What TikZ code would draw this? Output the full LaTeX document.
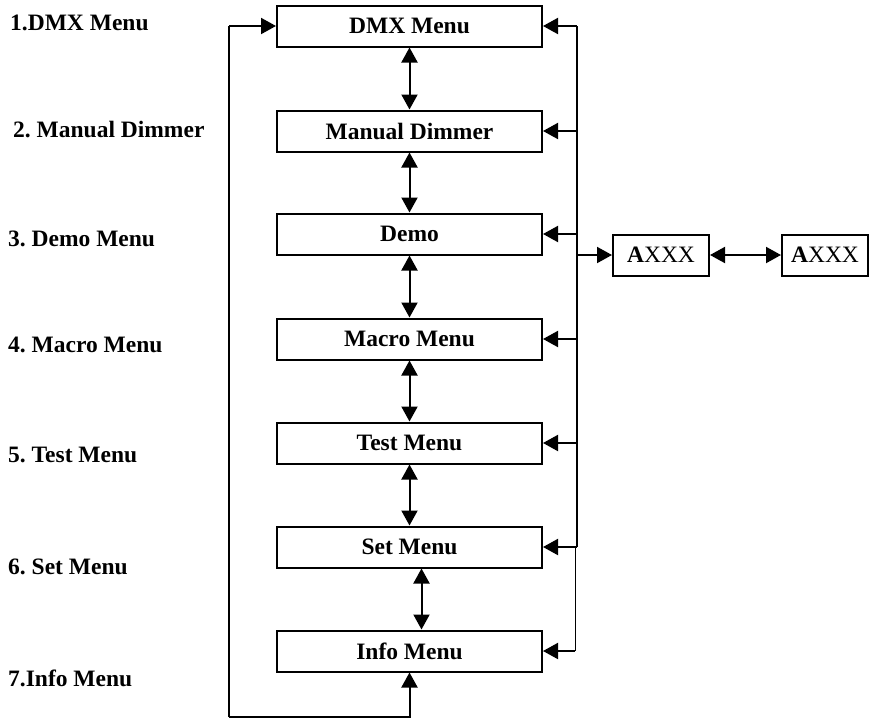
\documentclass[tikz,border=0pt]{standalone}
\usepackage{fontspec}
\setmainfont{Liberation Serif}
\usetikzlibrary{arrows.meta}
\frenchspacing
\tikzset{
  menubox/.style={draw, line width=2pt, minimum width=265pt, minimum height=41pt, inner sep=0pt, font=\fontsize{23.5}{27}\selectfont\bfseries},
  abox/.style={draw, line width=2pt, minimum height=41pt, inner sep=0pt, font=\fontsize{23.5}{27}\selectfont},
  lbl/.style={anchor=west, inner sep=0pt, font=\fontsize{23.5}{27}\selectfont\bfseries},
  conn/.style={line width=2pt},
  arr/.style={line width=2pt, -{Triangle[length=15pt,width=16pt]}},
  dbl/.style={line width=2pt, {Triangle[length=15pt,width=16pt]}-{Triangle[length=15pt,width=16pt]}},
}
\begin{document}
\begin{tikzpicture}[x=1pt,y=-1pt]
\useasboundingbox (0,0) rectangle (879,721);
% left labels
\node[lbl] (l1) at (10,23) {1.DMX Menu};
\node[lbl] (l2) at (13,130) {2. Manual Dimmer};
\node[lbl] (l3) at (8,239) {3. Demo Menu};
\node[lbl] (l4) at (8,345) {4. Macro Menu};
\node[lbl] (l5) at (8,455) {5. Test Menu};
\node[lbl] (l6) at (8,567) {6. Set Menu};
\node[lbl] (l7) at (8,678) {7.Info Menu};
% menu boxes
\node[menubox] (dmx) at (409.5,26) {DMX Menu};
\node[menubox] (md) at (409.5,131) {Manual Dimmer};
\node[menubox] (demo) at (409.5,234) {Demo};
\node[menubox] (macro) at (409.5,339) {Macro Menu};
\node[menubox] (test) at (409.5,443) {Test Menu};
\node[menubox] (set) at (409.5,547) {Set Menu};
\node[menubox] (info) at (409.5,651) {Info Menu};
% AXXX boxes
\node[abox, minimum width=96pt] (a1) at (661,255) {\textbf{A}XXX};
\node[abox, minimum width=86pt] (a2) at (825,255) {\textbf{A}XXX};
% vertical double arrows
\draw[dbl] (dmx.south) -- (md.north);
\draw[dbl] (md.south) -- (demo.north);
\draw[dbl] (demo.south) -- (macro.north);
\draw[dbl] (macro.south) -- (test.north);
\draw[dbl] (test.south) -- (set.north);
\draw[dbl] ([xshift=12pt]set.south) -- ([xshift=12pt]info.north);
% left loop
\coordinate (lt) at (229,26);
\coordinate (lb) at (229,717);
\draw[conn] (lb) -- (lt);
\draw[arr] (lt) -- (dmx.west);
\draw[arr] (lb) -| (info.south);
% right bus
\coordinate (bt) at (577,26);
\coordinate (bb) at (577,547);
\draw[conn] (bt) -- (bb);
\draw[arr] (bt) -- (dmx.east);
\draw[arr] (md.east -| bt) -- (md.east);
\draw[arr] (demo.east -| bt) -- (demo.east);
\draw[arr] (macro.east -| bt) -- (macro.east);
\draw[arr] (test.east -| bt) -- (test.east);
\draw[arr] (bb) -- (set.east);
\coordinate (tt) at (575,547);
\coordinate (tb) at (575,651);
\draw[line width=1pt] (tt) -- (tb);
\draw[arr] (tb) -- (info.east);
% to AXXX
\draw[arr] (a1.west -| bt) -- (a1.west);
\draw[dbl] (a1.east) -- (a2.west);
\end{tikzpicture}
\end{document}
